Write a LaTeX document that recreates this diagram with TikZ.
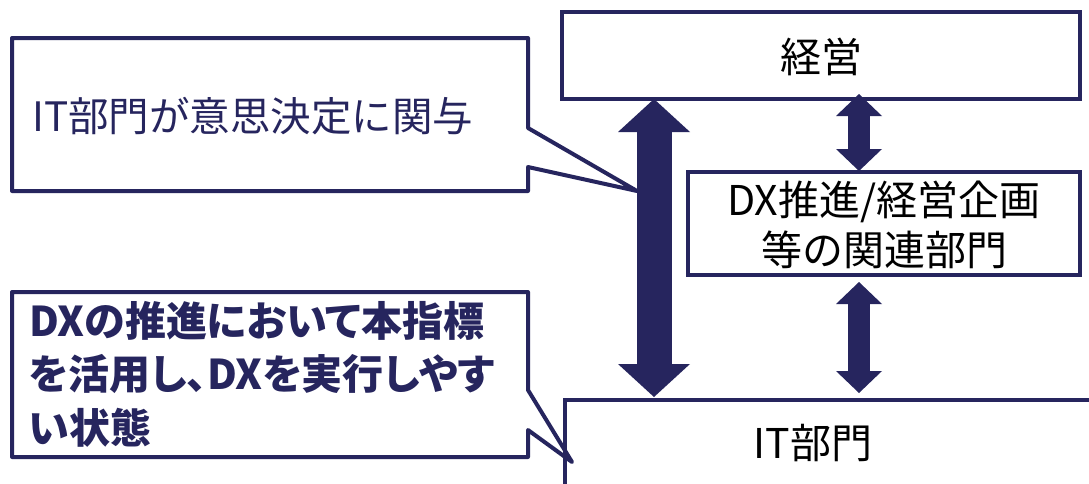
\documentclass[tikz,border=0pt]{standalone}
\usepackage{fontspec}
\setmainfont{Noto Sans CJK JP}
\newfontfamily\cjkp{Noto Sans CJK JP}[RawFeature=+palt]
\usetikzlibrary{arrows.meta}
\definecolor{navy}{RGB}{38,37,94}
\tikzset{
  box/.style={draw=navy, line width=4pt, fill=white, inner sep=0pt},
  lbl/.style={text=black, font=\fontsize{41}{50}\selectfont, align=center, inner sep=0pt},
  ctext/.style={text=navy, inner sep=0pt, anchor=west, align=left},
  callout/.style={draw=navy, line width=4pt, line join=round},
  bigarr/.style={draw=navy, line width=35pt, {Triangle[width=72pt,length=33pt,line width=0pt]}-{Triangle[width=72pt,length=33pt,line width=0pt]}},
  smallarr/.style={draw=navy, line width=22pt, {Triangle[width=46pt,length=22pt,line width=0pt]}-{Triangle[width=46pt,length=22pt,line width=0pt]}}
}
\begin{document}
\begin{tikzpicture}[x=1pt,y=-1pt]
\useasboundingbox (0,0) rectangle (1089,483);
\fill[white] (0,0) rectangle (1089,483);
\clip (0,0) rectangle (1089,483);
% boxes
\node[box, minimum width=518pt, minimum height=87pt] (keiei) at (821,55.5) {};
\node[lbl] (keieit) at (821,57) {経営};
\node[box, minimum width=392pt, minimum height=103pt] (dx) at (884,223.5) {};
\node[lbl] (dxt) at (884,225) {DX推進/経営企画\\等の関連部門};
\node[box, minimum width=560pt, minimum height=86pt, anchor=north west] (itbox) at (563,398) {};
\node[lbl] (it) at (813,443) {IT部門};
% arrows
\coordinate (bx) at (654,0);
\coordinate (sx) at (859,0);
\draw[bigarr, shorten <=-2pt, shorten >=1pt] (keiei.south -| bx) -- (itbox.north -| bx);
\draw[smallarr, shorten <=-7pt, shorten >=-1pt] (keiei.south -| sx) -- (dx.north -| sx);
\draw[smallarr, shorten <=5pt, shorten >=5pt] (dx.south -| sx) -- (itbox.north -| sx);
% callouts
\coordinate (tip1) at (637,191);
\coordinate (tip2) at (572,462);
\draw[callout] (12,38) -- (528,38) -- (528,128) -- (tip1) -- (528,167) -- (528,191) -- (12,191) -- cycle;
\node[ctext, font=\fontsize{40.5}{50}\selectfont] (c1) at (32,116) {IT部門が意思決定に関与};
\draw[callout] (12,292) -- (528,292) -- (528,390) -- (tip2) -- (528,430) -- (528,457) -- (12,457) -- cycle;
\node[ctext, font=\cjkp\bfseries\fontsize{41}{53.5}\selectfont, anchor=north west] (c2) at (29,301) {DXの推進において本指標\\を活用し、DXを実行しやす\\い状態};
\end{tikzpicture}
\end{document}
